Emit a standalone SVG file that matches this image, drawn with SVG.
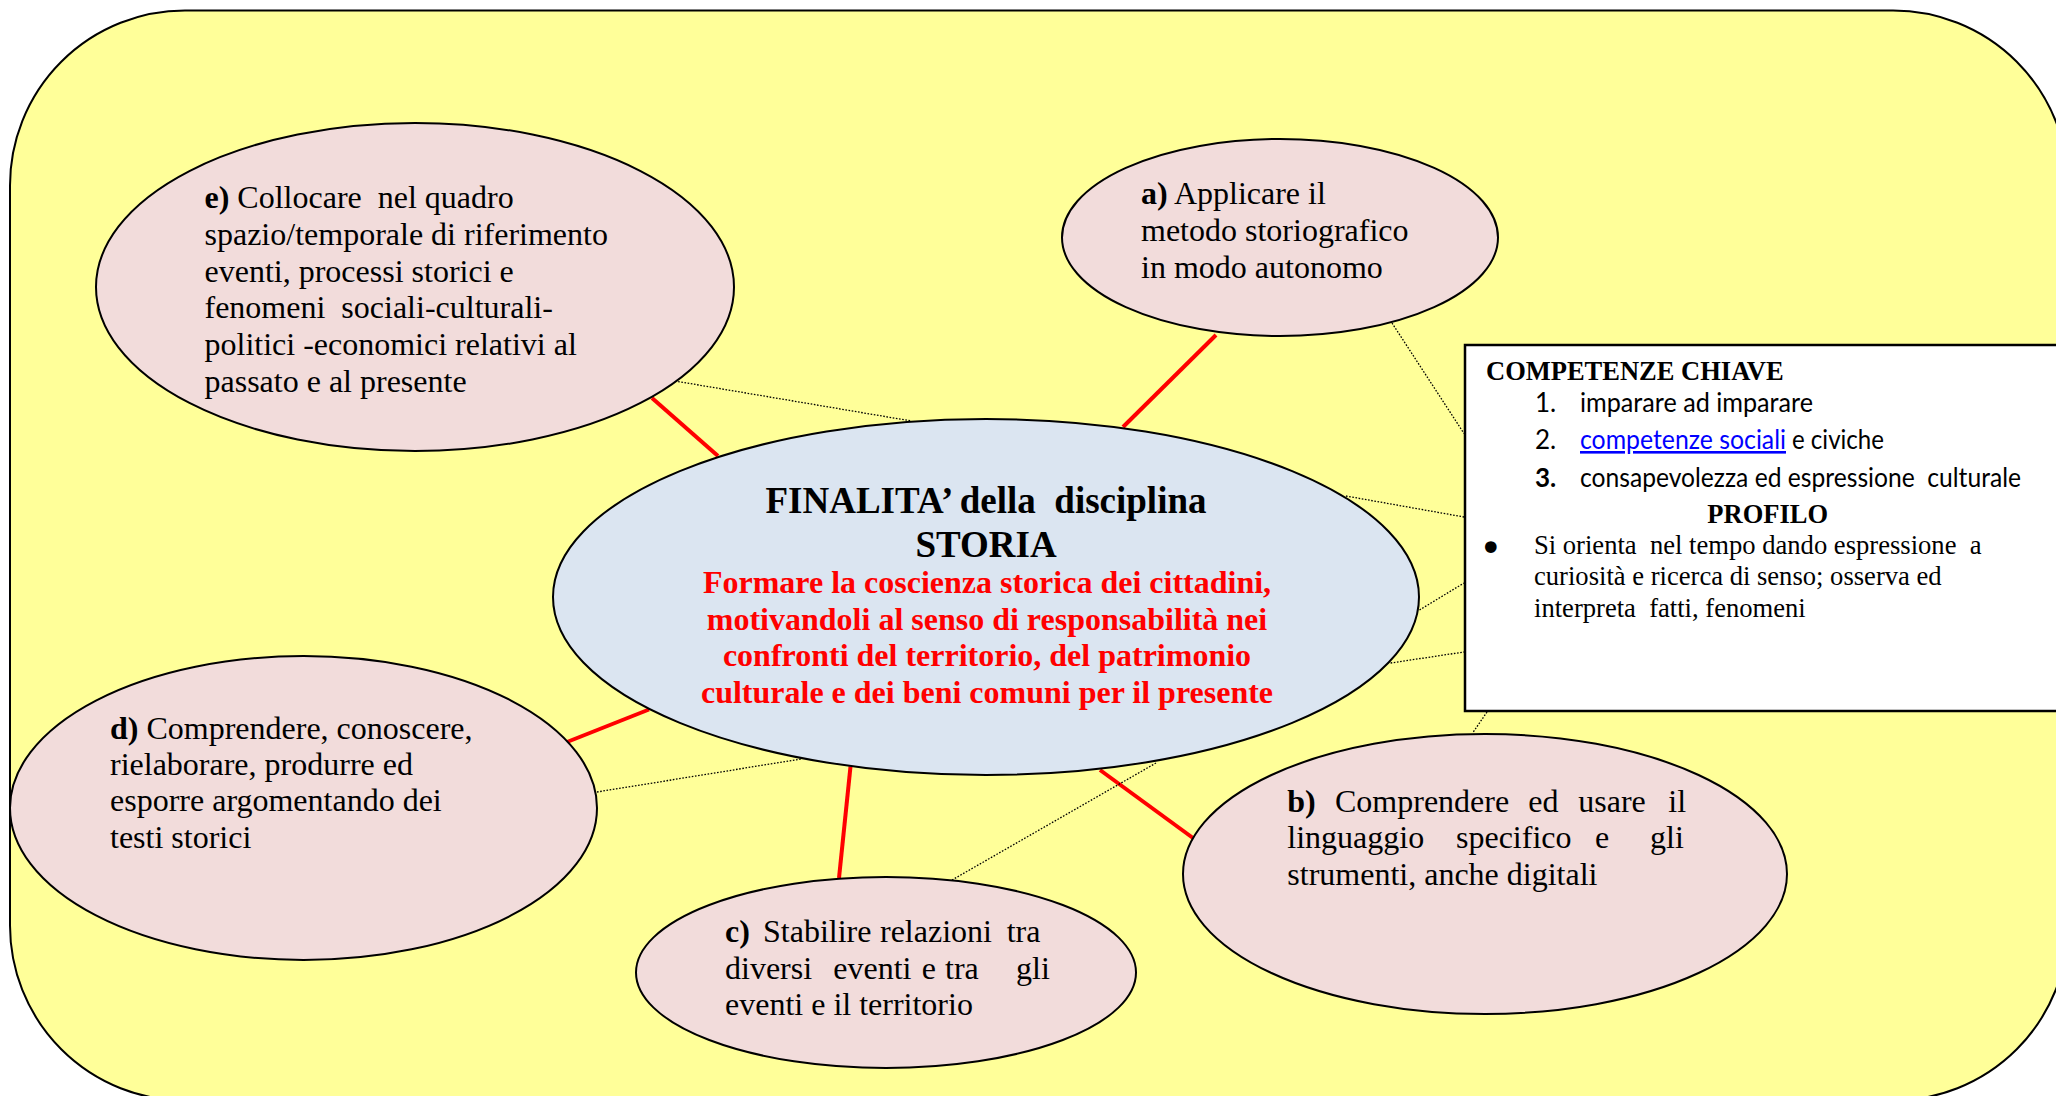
<svg xmlns="http://www.w3.org/2000/svg" width="2056" height="1096" viewBox="0 0 2056 1096">
<style>
.bg{fill:#FFFF99;stroke:#000;stroke-width:2}
.pink{fill:#F2DCDB;stroke:#000;stroke-width:2}
.blue{fill:#DBE5F1;stroke:#000;stroke-width:2}
.box{fill:#FFFFFF;stroke:#000;stroke-width:2.5}
.red{stroke:#FF0000;stroke-width:4;fill:none}
.dot{stroke:#000;stroke-width:1.3;stroke-dasharray:1.6 1.6;fill:none}
.t{font-family:"Liberation Serif","Times New Roman",serif;font-size:32px;fill:#000;white-space:pre}
.b{font-weight:bold}
.title{font-family:"Liberation Serif","Times New Roman",serif;font-size:37px;font-weight:bold;fill:#000;text-anchor:middle;white-space:pre}
.rt{font-family:"Liberation Serif","Times New Roman",serif;font-size:32px;font-weight:bold;fill:#FF0000;text-anchor:middle}
.bh{font-family:"Liberation Serif","Times New Roman",serif;font-size:26.5px;font-weight:bold;fill:#000}
.cal{font-family:Lato,"Open Sans",sans-serif;font-size:26px;fill:#000;white-space:pre}
.bt{font-family:"Liberation Serif","Times New Roman",serif;font-size:26.6px;fill:#000;white-space:pre}
.bul{font-family:"DejaVu Sans",sans-serif;font-size:40px;fill:#000}
</style>
<rect class="bg" x="10" y="10.5" width="2058" height="1090" rx="175" ry="175"/>
<g id="connectors">
<line class="red" x1="652" y1="398" x2="718" y2="456"/>
<line class="red" x1="1216" y1="335" x2="1123" y2="427"/>
<line class="red" x1="567" y1="742" x2="649" y2="709.5"/>
<line class="red" x1="839" y1="878" x2="850.5" y2="766.5"/>
<line class="red" x1="1193" y1="838" x2="1100" y2="770"/>
<line class="dot" x1="675" y1="381" x2="911.5" y2="421"/>
<line class="dot" x1="1392" y1="323" x2="1464" y2="433.5"/>
<line class="dot" x1="1346" y1="496" x2="1464" y2="517"/>
<line class="dot" x1="1419.5" y1="610" x2="1464" y2="583"/>
<line class="dot" x1="1390.6" y1="663" x2="1464" y2="652"/>
<line class="dot" x1="1487" y1="712" x2="1472.6" y2="733"/>
<line class="dot" x1="952" y1="880" x2="1156" y2="763"/>
<line class="dot" x1="597" y1="792" x2="801" y2="759"/>
</g>
<g id="node-e">
<ellipse class="pink" cx="415" cy="287" rx="319" ry="164"/>
<text class="t" x="204.5" y="208.3"><tspan class="b">e)</tspan> Collocare  nel quadro</text>
<text class="t" x="204.5" y="245">spazio/temporale di riferimento</text>
<text class="t" x="204.5" y="281.7">eventi, processi storici e</text>
<text class="t" x="204.5" y="318.4">fenomeni  sociali-culturali-</text>
<text class="t" x="204.5" y="355.1">politici -economici relativi al</text>
<text class="t" x="204.5" y="391.8">passato e al presente</text>
</g>
<g id="node-a">
<ellipse class="pink" cx="1280" cy="237.5" rx="218" ry="98.5"/>
<text class="t" x="1141" y="203.5"><tspan class="b">a)</tspan> Applicare il</text>
<text class="t" x="1141" y="240.5">metodo storiografico</text>
<text class="t" x="1141" y="277.9">in modo autonomo</text>
</g>
<g id="node-center">
<ellipse class="blue" cx="986" cy="597" rx="433" ry="178"/>
<text class="title" x="986" y="513.3">FINALITA’ della  disciplina</text>
<text class="title" x="986" y="557">STORIA</text>
<text class="rt" x="987" y="593.3">Formare la coscienza storica dei cittadini,</text>
<text class="rt" x="987" y="629.5">motivandoli al senso di responsabilità nei</text>
<text class="rt" x="987" y="666">confronti del territorio, del patrimonio</text>
<text class="rt" x="987" y="702.7">culturale e dei beni comuni per il presente</text>
</g>
<g id="node-d">
<ellipse class="pink" cx="303.5" cy="808" rx="293.5" ry="152"/>
<text class="t" x="110" y="738.5"><tspan class="b">d)</tspan> Comprendere, conoscere,</text>
<text class="t" x="110" y="775">rielaborare, produrre ed</text>
<text class="t" x="110" y="811">esporre argomentando dei</text>
<text class="t" x="110" y="847.5">testi storici</text>
</g>
<g id="node-c">
<ellipse class="pink" cx="886" cy="972.5" rx="250" ry="95.5"/>
<text class="t" y="941.7"><tspan class="b" x="725">c)</tspan><tspan x="763">Stabilire</tspan><tspan x="880">relazioni</tspan><tspan x="1006.7">tra</tspan></text>
<text class="t" y="978.5"><tspan x="725">diversi</tspan><tspan x="833.3">eventi</tspan><tspan x="921.7">e</tspan><tspan x="945">tra</tspan><tspan x="1016">gli</tspan></text>
<text class="t" x="725" y="1015">eventi e il territorio</text>
</g>
<g id="node-b">
<ellipse class="pink" cx="1485" cy="874" rx="302" ry="140"/>
<text class="t" y="811.7"><tspan class="b" x="1287.3">b)</tspan><tspan x="1335">Comprendere</tspan><tspan x="1528.3">ed</tspan><tspan x="1578.3">usare</tspan><tspan x="1668.3">il</tspan></text>
<text class="t" y="848.3"><tspan x="1287.3">linguaggio</tspan><tspan x="1456">specifico</tspan><tspan x="1595">e</tspan><tspan x="1650">gli</tspan></text>
<text class="t" x="1287.3" y="885">strumenti, anche digitali</text>
</g>
<g id="node-box">
<rect class="box" x="1465" y="345" width="620" height="366"/>
<text class="bh" x="1486" y="380">COMPETENZE CHIAVE</text>
<text class="cal" x="1535" y="411.7">1.</text>
<text class="cal" x="1580" y="411.7" textLength="233" lengthAdjust="spacingAndGlyphs">imparare ad imparare</text>
<text class="cal" x="1535" y="449">2.</text>
<text class="cal" x="1580" y="449" textLength="206" lengthAdjust="spacingAndGlyphs" style="fill:#0000FF" text-decoration="underline">competenze sociali</text>
<text class="cal" x="1792" y="449" textLength="92" lengthAdjust="spacingAndGlyphs">e civiche</text>
<text class="cal" x="1535" y="486.7" font-weight="bold">3.</text>
<text class="cal" x="1580" y="486.7" textLength="441" lengthAdjust="spacingAndGlyphs">consapevolezza ed espressione  culturale</text>
<text class="bh" x="1767.7" y="522.7" text-anchor="middle">PROFILO</text>
<text class="bul" x="1479" y="562">•</text>
<text class="bt" x="1534" y="554">Si orienta  nel tempo dando espressione  a</text>
<text class="bt" x="1534" y="585">curiosità e ricerca di senso; osserva ed</text>
<text class="bt" x="1534" y="616.7">interpreta  fatti, fenomeni</text>
</g>
</svg>
